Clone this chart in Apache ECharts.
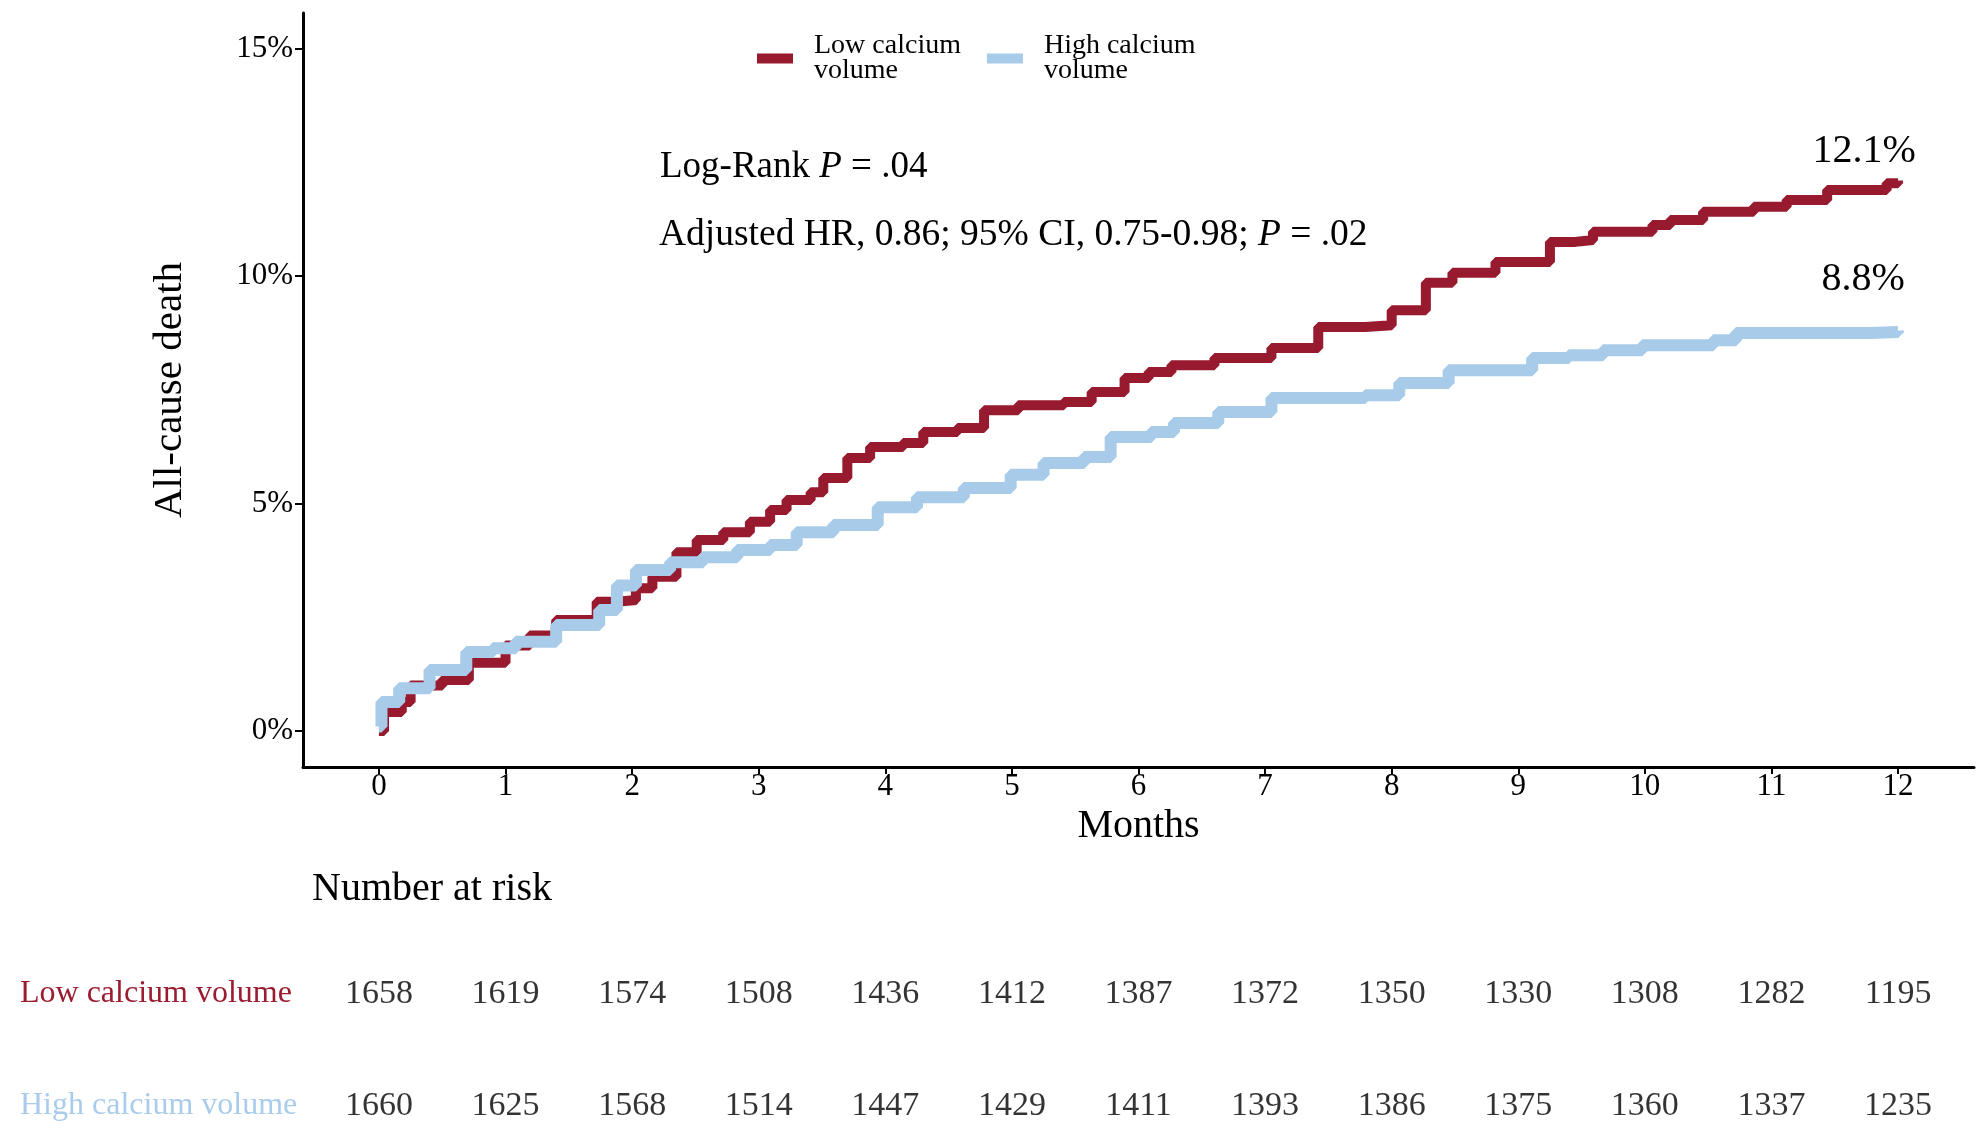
<!DOCTYPE html>
<html>
<head>
<meta charset="utf-8">
<script src="https://cdn.jsdelivr.net/npm/echarts@6/dist/echarts.min.js"></script>
<style>
html,body{margin:0;padding:0;background:#fff;}
#c{width:1980px;height:1134px;}
</style>
</head>
<body>
<div id="c"></div>
<script>
// ---- data ----
const seriesNames = ['Low calcium volume', 'High calcium volume'];
const legendLabels = ['Low calcium\nvolume', 'High calcium\nvolume'];
const lowMonths = [0, 0.04, 0.18, 0.25, 0.5, 0.71, 1.0, 1.19, 1.40, 1.72, 1.88, 2.03, 2.16, 2.35, 2.51, 2.72, 2.93, 3.09, 3.22, 3.41, 3.51, 3.70, 3.88, 4.14, 4.30, 4.57, 4.78, 5.05, 5.41, 5.63, 5.89, 6.08, 6.26, 6.60, 7.05, 7.42, 7.79, 8.0, 8.27, 8.48, 8.82, 9.25, 9.45, 9.59, 10.06, 10.2, 10.46, 10.86, 11.12, 11.44, 11.91, 12.0];
const lowPct = [0, 0.42, 0.64, 1.0, 1.12, 1.5, 1.88, 2.1, 2.44, 2.84, 2.88, 3.14, 3.39, 3.93, 4.2, 4.37, 4.6, 4.86, 5.08, 5.25, 5.56, 6.0, 6.24, 6.33, 6.57, 6.66, 7.05, 7.16, 7.23, 7.45, 7.76, 7.89, 8.04, 8.2, 8.42, 8.88, 8.92, 9.25, 9.85, 10.07, 10.31, 10.75, 10.79, 10.97, 11.12, 11.23, 11.41, 11.52, 11.67, 11.89, 12.04, 12.1];
const highMonths = [0, 0.02, 0.16, 0.4, 0.69, 0.9, 1.08, 1.40, 1.74, 1.88, 2.03, 2.3, 2.56, 2.83, 3.09, 3.30, 3.59, 3.94, 4.25, 4.62, 4.99, 5.25, 5.57, 5.78, 6.10, 6.28, 6.63, 7.05, 7.79, 8.06, 8.45, 9.11, 9.40, 9.67, 9.98, 10.54, 10.72, 11.41, 11.78, 12.0];
const highPct = [0.1, 0.64, 0.94, 1.34, 1.74, 1.82, 1.96, 2.33, 2.66, 3.2, 3.54, 3.71, 3.82, 3.98, 4.09, 4.37, 4.53, 4.92, 5.14, 5.34, 5.63, 5.89, 6.02, 6.46, 6.57, 6.77, 7.01, 7.32, 7.38, 7.65, 7.93, 8.2, 8.26, 8.37, 8.48, 8.59, 8.75, 8.75, 8.77, 8.8];
const endLabelText = ['12.1%', '8.8%'];
const endValues = [12.1, 8.8];
const xTicks = [0, 1, 2, 3, 4, 5, 6, 7, 8, 9, 10, 11, 12];
const yTicks = [0, 5, 10, 15];
const riskLow = [1658, 1619, 1574, 1508, 1436, 1412, 1387, 1372, 1350, 1330, 1308, 1282, 1195];
const riskHigh = [1660, 1625, 1568, 1514, 1447, 1429, 1411, 1393, 1386, 1375, 1360, 1337, 1235];

// ---- styles ----
const FONT = '"Liberation Serif", "Times New Roman", serif';
const RED = '#981a2f';
const BLUE = '#a8cbea';
const RED_TXT = '#9b1b30';
const BLUE_TXT = '#a9ccec';

const lowData = lowMonths.map((m, i) => [m, lowPct[i]]);
const highData = highMonths.map((m, i) => [m, highPct[i]]);
const riskData = [];
xTicks.forEach((m, i) => {
  riskData.push([m, seriesNames[0], riskLow[i]]);
  riskData.push([m, seriesNames[1], riskHigh[i]]);
});

const chart = echarts.init(document.getElementById('c'));
chart.setOption({
  animation: false,
  backgroundColor: '#fff',
  textStyle: { fontFamily: FONT },
  grid: [
    { left: 303, right: 6, top: 13, bottom: 367 },
    { left: 303, right: 6, top: 994, bottom: 28 }
  ],
  legend: {
    data: seriesNames,
    left: 752, top: 27,
    itemWidth: 36, itemHeight: 10, itemGap: 26,
    icon: 'rect',
    formatter: name => legendLabels[seriesNames.indexOf(name)],
    textStyle: { fontFamily: FONT, fontSize: 28, lineHeight: 25, color: '#000', padding: [0, 0, 0, 16] }
  },
  xAxis: [
    {
      type: 'value', gridIndex: 0, min: -0.6, max: 12.6,
      axisLine: { show: true, onZero: false, lineStyle: { color: '#000', width: 3 } },
      axisTick: { show: true, customValues: xTicks, length: 7, lineStyle: { color: '#000', width: 2 } },
      axisLabel: { customValues: xTicks, fontSize: 31, color: '#000', margin: 4, fontFamily: FONT },
      splitLine: { show: false },
      name: 'Months', nameLocation: 'middle', nameGap: 30,
      nameTextStyle: { fontSize: 40, color: '#000', fontFamily: FONT }
    },
    {
      type: 'value', gridIndex: 1, min: -0.6, max: 12.6, show: false
    }
  ],
  yAxis: [
    {
      type: 'value', gridIndex: 0, min: -0.79, max: 15.78,
      axisLine: { show: true, onZero: false, lineStyle: { color: '#000', width: 3 } },
      axisTick: { show: true, customValues: yTicks, length: 8, lineStyle: { color: '#000', width: 2 } },
      axisLabel: { customValues: yTicks, formatter: v => v + '%', fontSize: 31, color: '#000', margin: 10, fontFamily: FONT },
      splitLine: { show: false },
      name: 'All-cause death', nameLocation: 'middle', nameRotate: 90, nameGap: 112,
      nameTextStyle: { fontSize: 41, color: '#000', fontFamily: FONT }
    },
    {
      type: 'category', gridIndex: 1, data: seriesNames, inverse: true, boundaryGap: false,
      axisLine: { show: false }, axisTick: { show: false }, splitLine: { show: false },
      axisLabel: {
        align: 'left', margin: 283, fontSize: 32, fontFamily: FONT,
        color: (v, i) => (v === seriesNames[0] ? RED_TXT : BLUE_TXT)
      }
    }
  ],
  graphic: [
    {
      type: 'text', x: 660, y: 167,
      style: {
        text: '{n|Log-Rank }{i|P}{n| = .04}',
        verticalAlign: 'middle',
        rich: {
          n: { fontFamily: FONT, fontSize: 37, fill: '#000' },
          i: { fontFamily: FONT, fontSize: 37, fontStyle: 'italic', fill: '#000' }
        }
      }
    },
    {
      type: 'text', x: 659, y: 235,
      style: {
        text: '{n|Adjusted HR, 0.86; 95% CI, 0.75-0.98; }{i|P}{n| = .02}',
        verticalAlign: 'middle',
        rich: {
          n: { fontFamily: FONT, fontSize: 37.5, fill: '#000' },
          i: { fontFamily: FONT, fontSize: 37.5, fontStyle: 'italic', fill: '#000' }
        }
      }
    },
    {
      type: 'text', x: 312, y: 889,
      style: { text: 'Number at risk', verticalAlign: 'middle', fontFamily: FONT, fontSize: 40, fill: '#000' }
    }
  ],
  series: [
    {
      name: seriesNames[0], type: 'line', step: 'end', xAxisIndex: 0, yAxisIndex: 0,
      data: lowData, showSymbol: false, symbol: 'none',
      itemStyle: { color: RED },
      lineStyle: { color: RED, width: 10 },
      markPoint: {
        symbolSize: 0,
        data: [{ coord: [12, endValues[0]] }],
        label: { show: true, formatter: endLabelText[0], position: 'inside', offset: [-34, -29], fontFamily: FONT, fontSize: 40, color: '#000' }
      },
      z: 2
    },
    {
      name: seriesNames[1], type: 'line', step: 'end', xAxisIndex: 0, yAxisIndex: 0,
      data: highData, showSymbol: false, symbol: 'none',
      itemStyle: { color: BLUE },
      lineStyle: { color: BLUE, width: 12 },
      markPoint: {
        symbolSize: 0,
        data: [{ coord: [12, endValues[1]] }],
        label: { show: true, formatter: endLabelText[1], position: 'inside', offset: [-35, -51], fontFamily: FONT, fontSize: 40, color: '#000' }
      },
      z: 3
    },
    {
      name: 'risk', type: 'scatter', xAxisIndex: 1, yAxisIndex: 1,
      data: riskData, symbolSize: 0, silent: true,
      encode: { x: 0, y: 1 },
      label: { show: true, position: 'inside', formatter: p => String(p.value[2]), fontFamily: FONT, fontSize: 34, color: '#000' }
    }
  ]
});
</script>
</body>
</html>
